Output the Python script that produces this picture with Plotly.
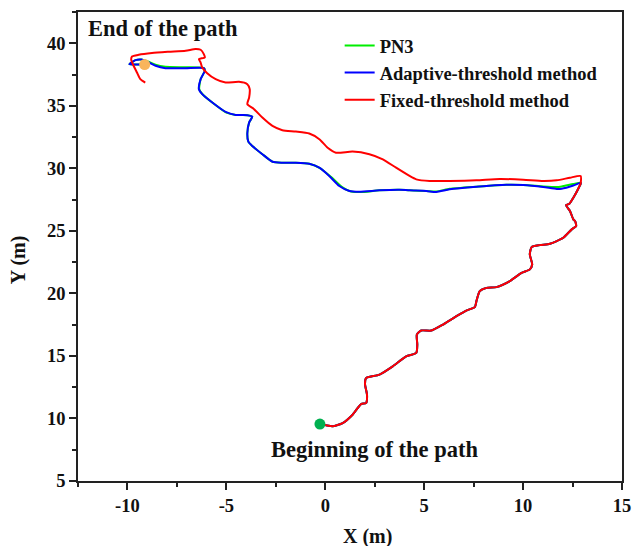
import plotly.graph_objects as go

# Shared climb from the start point up to the right-hand corner (m)
diag_x = [-0.27, 0.04, 0.37, 0.88, 1.38, 1.81, 2.06, 2.11, 2.01, 2.06, 2.32, 2.74, 3.41, 4.09,
          4.60, 4.65, 4.63, 4.85, 5.36, 5.95, 6.63, 7.13, 7.56, 7.64, 7.81, 8.15, 8.66, 9.33,
          9.92, 10.34, 10.46, 10.34, 10.43, 10.85, 11.36, 12.03, 12.46, 12.68, 12.63, 12.54,
          12.37, 12.17, 12.34, 12.54, 12.71, 12.91]
diag_y = [9.55, 9.45, 9.37, 9.63, 10.30, 11.15, 11.23, 11.90, 12.71, 13.23, 13.35, 13.51, 14.17,
          14.97, 15.24, 15.91, 16.71, 17.03, 17.03, 17.51, 18.18, 18.63, 18.90, 19.38, 20.18,
          20.44, 20.50, 20.98, 21.64, 21.92, 22.32, 23.12, 23.70, 23.86, 23.97, 24.45, 25.12,
          25.38, 25.78, 25.92, 26.59, 27.06, 27.17, 27.65, 28.13, 28.77]

# Adaptive-threshold method: corner -> end
adapt_x = [12.91, 12.54, 11.95, 11.70, 11.02, 10.01, 9.16, 7.64, 6.29, 5.61, 5.11, 4.26, 3.75,
           2.74, 1.72, 1.22, 0.71, 0.20, -0.30, -0.81, -1.49, -2.17, -2.67, -3.18, -3.69, -3.89,
           -3.94, -3.85, -3.69, -3.94, -4.53, -5.04, -5.71, -6.22, -6.39, -6.30, -6.09, -6.14,
           -7.06, -8.08, -8.58, -8.90, -9.30, -9.60, -9.80, -9.90, -9.50, -9.15]
adapt_y = [28.85, 28.63, 28.37, 28.35, 28.51, 28.67, 28.69, 28.53, 28.32, 28.11, 28.19, 28.24,
           28.29, 28.24, 28.13, 28.19, 28.59, 29.39, 30.05, 30.37, 30.45, 30.45, 30.53, 31.13,
           31.79, 32.14, 32.80, 33.66, 34.14, 34.25, 34.27, 34.51, 35.26, 35.93, 36.33, 37.13,
           37.80, 38.01, 38.01, 38.01, 38.20, 38.45, 38.70, 38.65, 38.45, 38.33, 38.30, 38.30]

# PN3 reference: corner -> end
pn3_x = [12.91, 12.54, 11.95, 11.70, 11.02, 10.01, 9.16, 7.64, 6.29, 5.61, 5.11, 4.26, 3.75,
         2.74, 1.80, 1.30, 0.85, 0.30, -0.25, -0.81, -1.49, -2.17, -2.67, -3.18, -3.69, -3.89,
         -3.94, -3.85, -3.69, -3.94, -4.53, -5.00, -5.65, -6.18, -6.37, -6.30, -6.09, -6.14,
         -7.06, -8.08, -8.58, -8.90, -9.30, -9.60, -9.80, -9.90, -9.50, -9.15]
pn3_y = [28.85, 28.75, 28.55, 28.50, 28.55, 28.67, 28.69, 28.53, 28.36, 28.15, 28.19, 28.24,
         28.29, 28.24, 28.10, 28.15, 28.50, 29.30, 30.00, 30.37, 30.45, 30.45, 30.53, 31.13,
         31.79, 32.14, 32.80, 33.66, 34.14, 34.25, 34.27, 34.45, 35.18, 35.88, 36.33, 37.13,
         37.80, 38.01, 38.08, 38.12, 38.28, 38.50, 38.70, 38.65, 38.45, 38.33, 38.30, 38.30]

# Fixed-threshold method: corner -> end
fixed_x = [12.91, 12.91, 12.37, 11.70, 11.02, 10.01, 8.82, 7.64, 6.29, 5.27, 4.60, 4.26, 3.58,
           2.91, 2.23, 1.38, 0.54, 0.12, -0.30, -0.81, -1.49, -2.17, -2.67, -3.18, -3.60, -3.94,
           -3.85, -3.82, -3.94, -4.36, -5.04, -5.54, -5.97, -6.22, -6.30, -6.39, -6.09, -6.14,
           -6.30, -6.56, -7.06, -7.91, -8.76, -9.43, -9.77, -9.81, -9.69, -9.52, -9.35, -9.10]
fixed_y = [28.77, 29.39, 29.25, 29.04, 28.99, 29.09, 29.15, 29.04, 28.99, 28.99, 29.12, 29.39,
           30.05, 30.72, 31.13, 31.34, 31.25, 31.65, 32.33, 32.78, 32.94, 33.05, 33.39, 34.06,
           34.73, 35.13, 35.66, 36.33, 36.73, 36.92, 36.86, 37.13, 37.61, 38.06, 38.46, 38.73,
           38.86, 39.13, 39.48, 39.54, 39.40, 39.32, 39.22, 39.08, 38.94, 38.68, 38.20, 37.66,
           37.13, 36.86]

start_pt = (-0.27, 9.55)
end_pt = (-9.13, 38.30)

x_ticks = [-10, -5, 0, 5, 10, 15]
x_tick_labels = ["-10", "-5", "0", "5", "10", "15"]
y_ticks = [5, 10, 15, 20, 25, 30, 35, 40]
y_tick_labels = ["5", "10", "15", "20", "25", "30", "35", "40"]

FONT = "Liberation Serif, Times New Roman, serif"
INK = "#111111"

fig = go.Figure()
fig.add_trace(go.Scatter(x=diag_x + pn3_x, y=diag_y + pn3_y, mode="lines", name="PN3",
                         line=dict(color="#00EE00", width=2, shape="spline", smoothing=0.6)))
fig.add_trace(go.Scatter(x=diag_x + adapt_x, y=diag_y + adapt_y, mode="lines",
                         name="Adaptive-threshold method",
                         line=dict(color="#0000FF", width=2, shape="spline", smoothing=0.6)))
fig.add_trace(go.Scatter(x=diag_x + fixed_x, y=diag_y + fixed_y, mode="lines",
                         name="Fixed-threshold method",
                         line=dict(color="#FF0000", width=2, shape="spline", smoothing=0.6)))
fig.add_trace(go.Scatter(x=[start_pt[0]], y=[start_pt[1]], mode="markers", showlegend=False,
                         marker=dict(color="#00B050", size=11)))
fig.add_trace(go.Scatter(x=[end_pt[0]], y=[end_pt[1]], mode="markers", showlegend=False,
                         marker=dict(color="#F9B55B", size=11)))

axis_common = dict(
    showline=True, linecolor="#222222", linewidth=1.5, mirror=True,
    ticks="outside", ticklen=7, tickwidth=1.5, tickcolor="#222222",
    showgrid=False, zeroline=False, automargin=False,
    tickfont=dict(family=FONT, size=18.5, color=INK, weight="bold"),
    minor=dict(ticks="outside", ticklen=4, tickwidth=1.5, tickcolor="#222222", dtick=2.5,
               tick0=0),
)

fig.update_layout(
    width=634, height=546,
    margin=dict(l=78, r=12, t=12, b=65),
    paper_bgcolor="white", plot_bgcolor="white",
    font=dict(family=FONT, color=INK),
    xaxis=dict(range=[-12.5, 15], tickmode="array", tickvals=x_ticks, ticktext=x_tick_labels,
               **axis_common),
    yaxis=dict(range=[5, 42.5], tickmode="array", tickvals=y_ticks, ticktext=y_tick_labels,
               **axis_common),
    legend=dict(x=0.481, y=0.968, xanchor="left", yanchor="top",
                font=dict(family=FONT, size=18.5, color=INK, weight="bold"),
                bgcolor="rgba(0,0,0,0)", tracegroupgap=0),
    annotations=[
        dict(text="End of the path", x=0.015, y=0.965, xref="paper", yref="paper",
             xanchor="left", yanchor="middle", showarrow=False,
             font=dict(family=FONT, size=22.5, color=INK, weight="bold")),
        dict(text="Beginning of the path", x=0.352, y=0.068, xref="paper", yref="paper",
             xanchor="left", yanchor="middle", showarrow=False,
             font=dict(family=FONT, size=22.5, color=INK, weight="bold")),
        dict(text="X (m)", x=0.533, y=-0.118, xref="paper", yref="paper",
             xanchor="center", yanchor="middle", showarrow=False,
             font=dict(family=FONT, size=20, color=INK, weight="bold")),
        dict(text="Y (m)", x=-0.11, y=0.471, xref="paper", yref="paper", textangle=-90,
             xanchor="center", yanchor="middle", showarrow=False,
             font=dict(family=FONT, size=20, color=INK, weight="bold")),
    ],
)

fig.write_html("out.html")
